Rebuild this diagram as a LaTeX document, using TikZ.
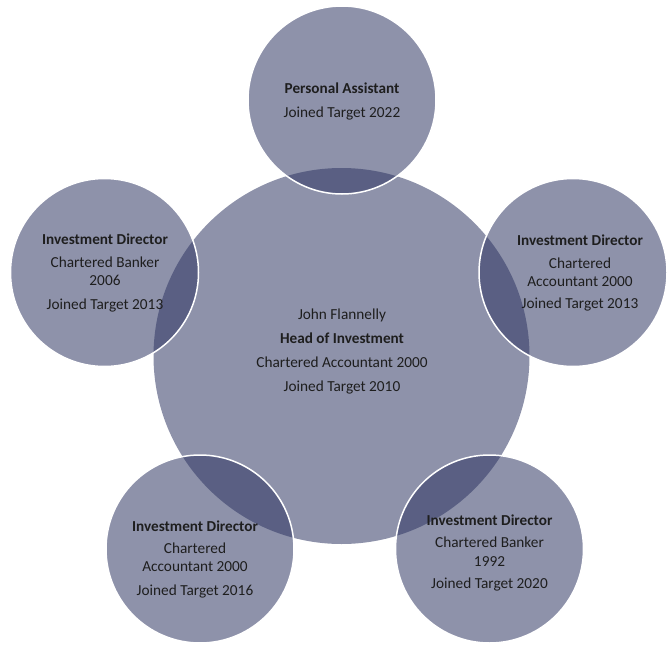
\documentclass[tikz,border=0pt]{standalone}
\usepackage{fontspec}
\setmainfont{Carlito}
\definecolor{hubc}{RGB}{142,146,170}
\definecolor{satc}{RGB}{46,53,98}
\definecolor{txtc}{RGB}{30,30,30}
\tikzset{
  hub/.style={circle, fill=hubc, minimum size=376pt, inner sep=0pt},
  sat/.style={circle, fill=satc, fill opacity=0.54, draw=white, draw opacity=1,
              line width=1.5pt, minimum size=188pt, inner sep=0pt},
  ttl/.style={font=\bfseries\fontsize{15.2}{18}\selectfont, text=txtc, anchor=base, inner sep=0pt},
  body/.style={font=\fontsize{15.3}{18}\selectfont, text=txtc, anchor=base, inner sep=0pt}
}
\begin{document}
\begin{tikzpicture}[x=1pt,y=-1pt]
\useasboundingbox (0,0) rectangle (667,645);
\node[hub] (hub) at (341.5,356) {};
\node[sat] (pa) at (342,100) {};
\node[sat] (lt) at (104.5,272.5) {};
\node[sat] (rt) at (573,272.5) {};
\node[sat] (bl) at (200,549) {};
\node[sat] (br) at (489.5,549) {};
% hub text
\node[body] (h1) at (342,319) {John Flannelly};
\node[ttl]  (h2) at (342,343) {Head of Investment};
\node[body] (h3) at (342,367) {Chartered Accountant 2000};
\node[body] (h4) at (342,391) {Joined Target 2010};
% personal assistant
\node[ttl]  (p1) at (342,93) {Personal Assistant};
\node[body] (p2) at (342,117) {Joined Target 2022};
% left
\node[ttl]  (l1) at (105,244) {Investment Director};
\node[body] (l2) at (105,267) {Chartered Banker};
\node[body] (l3) at (105,285) {2006};
\node[body] (l4) at (105,309) {Joined Target 2013};
% right
\node[ttl]  (r1) at (580,245) {Investment Director};
\node[body] (r2) at (580,268) {Chartered};
\node[body] (r3) at (580,286) {Accountant 2000};
\node[body] (r4) at (580,308) {Joined Target 2013};
% bottom left
\node[ttl]  (b1) at (195,531) {Investment Director};
\node[body] (b2) at (195,553) {Chartered};
\node[body] (b3) at (195,571) {Accountant 2000};
\node[body] (b4) at (195,595) {Joined Target 2016};
% bottom right
\node[ttl]  (c1) at (489.5,525) {Investment Director};
\node[body] (c2) at (489.5,547) {Chartered Banker};
\node[body] (c3) at (489.5,566) {1992};
\node[body] (c4) at (489.5,588) {Joined Target 2020};
\end{tikzpicture}
\end{document}
